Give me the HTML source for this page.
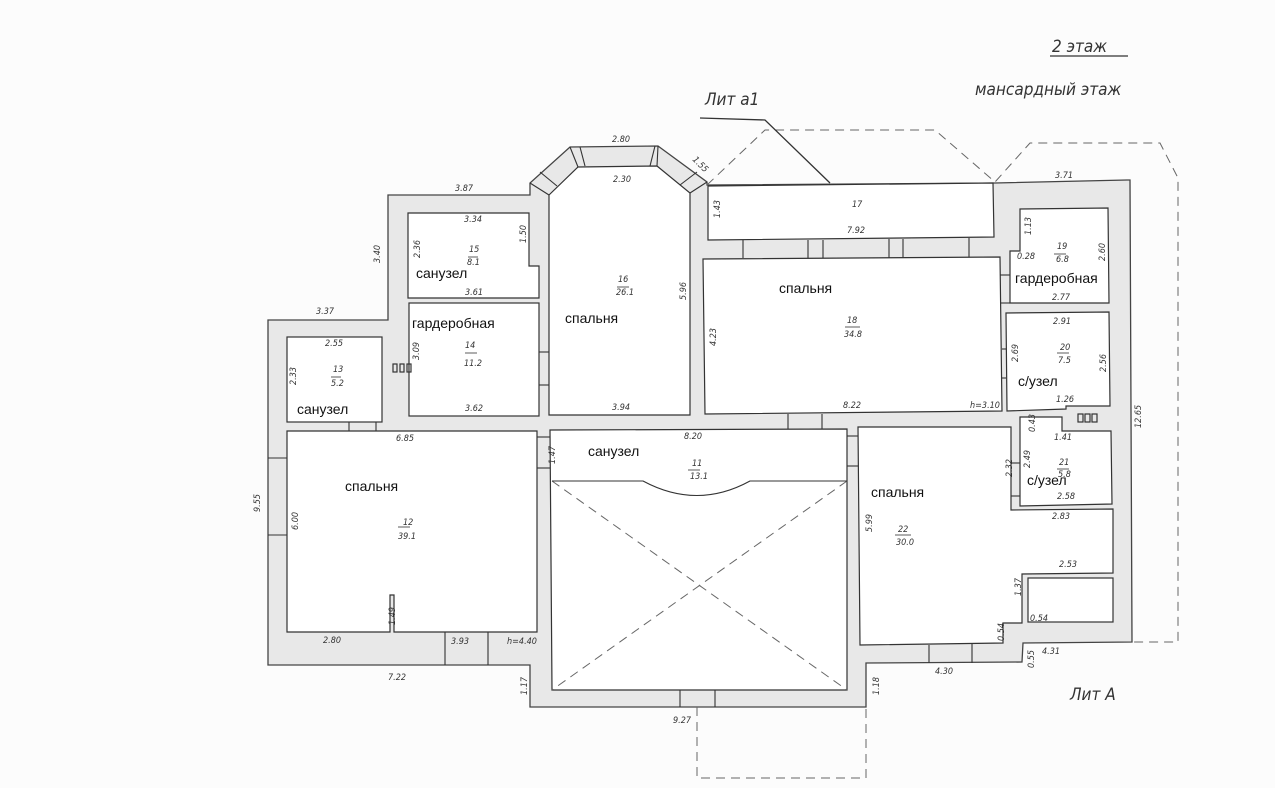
<!DOCTYPE html>
<html><head><meta charset="utf-8"><style>
html,body{margin:0;padding:0;background:#fcfcfc;}
svg{display:block}
.d{font-family:"DejaVu Sans Condensed","Liberation Sans",sans-serif;font-style:italic;font-size:9px;fill:#333}
.r{font-family:"Liberation Sans","DejaVu Sans",sans-serif;font-size:14px;fill:#111}
.h{font-family:"DejaVu Sans Condensed","Liberation Sans",sans-serif;font-style:italic;font-size:17px;fill:#333}
</style></head><body>
<svg width="1275" height="788" viewBox="0 0 1275 788" xmlns="http://www.w3.org/2000/svg">
<rect width="1275" height="788" fill="#fcfcfc"/>
<polygon points="388,195 530,195 530,183 570,147 658,146 707,182 707,185 995,183 1127,180 1130,180 1132,642 1023,643 1022,662 866,663 866,707 530,707 530,665 268,665 268,320 388,320" fill="#e8e8e8" stroke="#444" stroke-width="1.3"/>
<g fill="none" stroke="#666" stroke-width="1" stroke-dasharray="9,6">
<polyline points="707,185 765,130 935,130 995,182 1030,143 1160,143 1178,178 1178,642 1132,642"/>
<polyline points="697,707 697,778 866,778 866,707"/>
</g>
<polyline points="700,118 765,120 830,183" fill="none" stroke="#333" stroke-width="1.3"/>
<g fill="#fff" stroke="#333" stroke-width="1.2">
<polygon points="408,213 529,213 529,266 539,266 539,298 408,298"/>
<rect x="409" y="303" width="130" height="113"/>
<rect x="287" y="337" width="95" height="85"/>
<polygon points="549,195 578,167 657,166 690,193 690,415 549,415"/>
<polygon points="708,186 993,183 994,237 708,240"/>
<polygon points="703,259 1000,257 1002,411 705,414"/>
<polygon points="1020,209 1108,208 1109,303 1010,303 1010,251 1020,251"/>
<polygon points="1006,313 1109,312 1110,406 1066,406 1066,409 1007,411"/>
<polygon points="1020,417 1062,417 1062,431 1111,431 1112,504 1020,506"/>
<polygon points="858,427 1011,427 1011,510 1113,509 1113,573 1022,574 1022,623 1003,623 1003,643 860,645"/>
<rect x="1028" y="578" width="85" height="44"/>
<polygon points="287,431 537,431 537,632 394,632 394,595 390,595 390,632 287,632"/>
<polygon points="550,430 847,429 847,690 552,690"/>
</g>
<g fill="none" stroke="#666" stroke-width="1" stroke-dasharray="9,6">
<line x1="552" y1="481" x2="847" y2="690"/>
<line x1="847" y1="481" x2="552" y2="690"/>
</g>
<g fill="none" stroke="#333" stroke-width="1.1">
<path d="M552,481 L643,481 Q697,510 750,481 L847,481"/>
<line x1="570" y1="147" x2="578" y2="167"/><line x1="658" y1="146" x2="657" y2="166"/>
<line x1="530" y1="183" x2="549" y2="195"/><line x1="707" y1="182" x2="690" y2="193"/>
<line x1="540" y1="172" x2="557" y2="186"/><line x1="697" y1="172" x2="680" y2="185"/>
<line x1="580" y1="147" x2="585" y2="166"/><line x1="655" y1="146" x2="650" y2="166"/>
<line x1="743" y1="240" x2="743" y2="258"/><line x1="808" y1="240" x2="808" y2="258"/>
<line x1="823" y1="240" x2="823" y2="258"/><line x1="889" y1="239" x2="889" y2="258"/>
<line x1="903" y1="239" x2="903" y2="258"/><line x1="969" y1="238" x2="969" y2="257"/>
<line x1="539" y1="352" x2="549" y2="352"/><line x1="539" y1="385" x2="549" y2="385"/>
<line x1="349" y1="422" x2="349" y2="431"/><line x1="376" y1="422" x2="376" y2="431"/>
<line x1="537" y1="437" x2="550" y2="437"/><line x1="537" y1="468" x2="550" y2="468"/>
<line x1="847" y1="436" x2="858" y2="436"/><line x1="847" y1="466" x2="858" y2="466"/>
<line x1="788" y1="414" x2="788" y2="429"/><line x1="822" y1="414" x2="822" y2="429"/>
<line x1="1000" y1="275" x2="1010" y2="275"/><line x1="1000" y1="303" x2="1010" y2="303"/>
<line x1="1002" y1="349" x2="1006" y2="349"/><line x1="1002" y1="378" x2="1006" y2="378"/>
<line x1="1011" y1="463" x2="1020" y2="463"/><line x1="1011" y1="496" x2="1020" y2="496"/>
<line x1="268" y1="458" x2="287" y2="458"/><line x1="268" y1="535" x2="287" y2="535"/>
<line x1="445" y1="632" x2="445" y2="665"/><line x1="488" y1="632" x2="488" y2="665"/>
<line x1="680" y1="690" x2="680" y2="707"/><line x1="715" y1="690" x2="715" y2="707"/>
<line x1="929" y1="645" x2="929" y2="663"/><line x1="972" y1="644" x2="972" y2="663"/>
</g>
<g fill="none" stroke="#333" stroke-width="1.2">
<rect x="393" y="364" width="4" height="8"/><rect x="400" y="364" width="4" height="8"/><rect x="407" y="364" width="4" height="8"/>
<rect x="1078" y="414" width="5" height="8"/><rect x="1085" y="414" width="5" height="8"/><rect x="1092" y="414" width="5" height="8"/>
</g>
<g stroke="#333" stroke-width="0.8">
<line x1="468" y1="257" x2="478" y2="257"/><line x1="617" y1="287" x2="629" y2="287"/>
<line x1="465" y1="353" x2="477" y2="353"/><line x1="331" y1="377" x2="341" y2="377"/>
<line x1="845" y1="327" x2="860" y2="327"/><line x1="1054" y1="254" x2="1066" y2="254"/>
<line x1="1057" y1="353" x2="1069" y2="353"/><line x1="1057" y1="469" x2="1069" y2="469"/>
<line x1="398" y1="527" x2="410" y2="527"/><line x1="688" y1="470" x2="700" y2="470"/>
<line x1="895" y1="535" x2="911" y2="535"/>
</g>
<g class="r">
<text x="416" y="278">санузел</text>
<text x="412" y="328">гардеробная</text>
<text x="297" y="414">санузел</text>
<text x="565" y="323">спальня</text>
<text x="779" y="293">спальня</text>
<text x="1015" y="283">гардеробная</text>
<text x="1018" y="386">с/узел</text>
<text x="1027" y="485">с/узел</text>
<text x="588" y="456">санузел</text>
<text x="345" y="491">спальня</text>
<text x="871" y="497">спальня</text>
</g>
<g class="d">
<text x="455" y="191">3.87</text><text x="612" y="142">2.80</text><text x="613" y="182">2.30</text>
<text x="464" y="222">3.34</text><text x="469" y="252">15</text><text x="467" y="265">8.1</text>
<text x="465" y="295">3.61</text><text x="465" y="348">14</text><text x="464" y="366">11.2</text>
<text x="465" y="411">3.62</text><text x="316" y="314">3.37</text><text x="325" y="346">2.55</text>
<text x="333" y="372">13</text><text x="331" y="386">5.2</text>
<text x="618" y="282">16</text><text x="616" y="295">26.1</text><text x="612" y="410">3.94</text>
<text x="852" y="207">17</text><text x="847" y="233">7.92</text>
<text x="847" y="323">18</text><text x="844" y="337">34.8</text><text x="843" y="408">8.22</text><text x="970" y="408">h=3.10</text>
<text x="1055" y="178">3.71</text><text x="1057" y="249">19</text><text x="1056" y="262">6.8</text>
<text x="1052" y="300">2.77</text><text x="1017" y="259">0.28</text>
<text x="1053" y="324">2.91</text><text x="1060" y="350">20</text><text x="1058" y="363">7.5</text>
<text x="1056" y="402">1.26</text><text x="1054" y="440">1.41</text>
<text x="1059" y="465">21</text><text x="1058" y="477">5.8</text><text x="1057" y="499">2.58</text>
<text x="1052" y="519">2.83</text><text x="1059" y="567">2.53</text>
<text x="1030" y="621">0.54</text><text x="1042" y="654">4.31</text><text x="935" y="674">4.30</text>
<text x="898" y="532">22</text><text x="896" y="545">30.0</text>
<text x="396" y="441">6.85</text><text x="684" y="439">8.20</text>
<text x="692" y="466">11</text><text x="690" y="479">13.1</text>
<text x="403" y="525">12</text><text x="398" y="539">39.1</text>
<text x="323" y="643">2.80</text><text x="451" y="644">3.93</text><text x="507" y="644">h=4.40</text>
<text x="388" y="680">7.22</text><text x="673" y="723">9.27</text>
</g>
<g class="d">
<text transform="translate(380,263) rotate(-90)">3.40</text>
<text transform="translate(420,258) rotate(-90)">2.36</text>
<text transform="translate(526,243) rotate(-90)">1.50</text>
<text transform="translate(419,360) rotate(-90)">3.09</text>
<text transform="translate(296,385) rotate(-90)">2.33</text>
<text transform="translate(686,300) rotate(-90)">5.96</text>
<text transform="translate(720,218) rotate(-90)">1.43</text>
<text transform="translate(716,346) rotate(-90)">4.23</text>
<text transform="translate(1031,235) rotate(-90)">1.13</text>
<text transform="translate(1105,261) rotate(-90)">2.60</text>
<text transform="translate(1018,362) rotate(-90)">2.69</text>
<text transform="translate(1106,372) rotate(-90)">2.56</text>
<text transform="translate(1035,432) rotate(-90)">0.43</text>
<text transform="translate(1030,468) rotate(-90)">2.49</text>
<text transform="translate(1012,477) rotate(-90)">2.32</text>
<text transform="translate(1141,428) rotate(-90)">12.65</text>
<text transform="translate(1021,596) rotate(-90)">1.37</text>
<text transform="translate(1004,641) rotate(-90)">0.54</text>
<text transform="translate(1034,668) rotate(-90)">0.55</text>
<text transform="translate(872,532) rotate(-90)">5.99</text>
<text transform="translate(879,695) rotate(-90)">1.18</text>
<text transform="translate(260,512) rotate(-90)">9.55</text>
<text transform="translate(298,530) rotate(-90)">6.00</text>
<text transform="translate(395,625) rotate(-90)">1.49</text>
<text transform="translate(555,464) rotate(-90)">1.47</text>
<text transform="translate(527,695) rotate(-90)">1.17</text>
<text transform="translate(692,160) rotate(45)">1.55</text>
</g>
<g class="h">
<text x="1052" y="52">2 этаж</text>
<text x="975" y="95">мансардный этаж</text>
<text x="705" y="105">Лит а1</text>
<text x="1070" y="700">Лит А</text>
</g>
<line x1="1050" y1="56" x2="1128" y2="56" stroke="#333" stroke-width="1.2"/>
</svg>
</body></html>
